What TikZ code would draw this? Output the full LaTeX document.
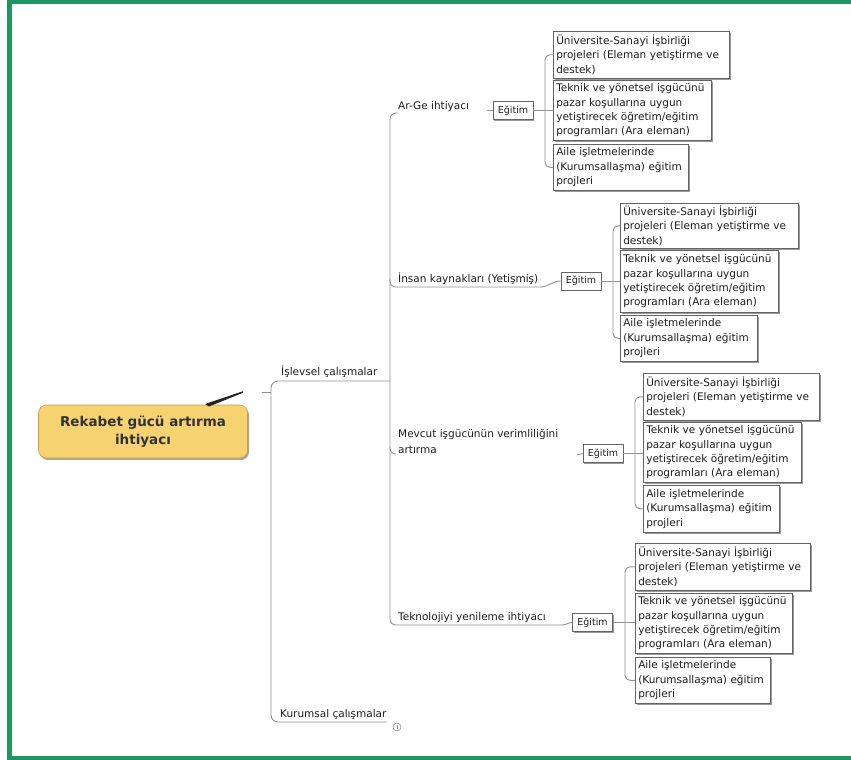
\documentclass[tikz,border=0pt]{standalone}
\usepackage{fontspec}
\setmainfont{DejaVu Sans}
\usetikzlibrary{shadows}
\definecolor{framec}{RGB}{33,150,96}
\definecolor{rootfill}{RGB}{246,210,112}
\definecolor{rootdraw}{RGB}{200,160,70}
\definecolor{txt}{RGB}{30,30,30}
\definecolor{linec}{RGB}{145,145,145}
\definecolor{boxline}{RGB}{100,100,100}
\newcommand\bxA{Üniversite-Sanayi İşbirliği\\projeleri (Eleman yetiştirme ve\\destek)}
\newcommand\bxB{Teknik ve yönetsel işgücünü\\pazar koşullarına uygun\\yetiştirecek öğretim/eğitim\\programları (Ara eleman)}
\newcommand\bxC{Aile işletmelerinde\\(Kurumsallaşma) eğitim\\projleri}
\begin{document}
\begin{tikzpicture}[x=1pt,y=-1pt,
  conn/.style={draw=linec, line width=0.9pt},
  lbl/.style={anchor=west, inner sep=0pt, text=txt, font=\fontsize{10.5}{16}\selectfont, align=left},
  shd/.style={drop shadow={shadow xshift=1.3pt, shadow yshift=-1.3pt, fill=black!40, opacity=1}},
  edu/.style={draw=boxline, line width=0.6pt, fill=white, inner sep=0pt, minimum width=40pt, minimum height=18pt, text=txt, font=\fontsize{9.5}{11}\selectfont, shd},
  tbox/.style={draw=boxline, line width=0.6pt, fill=white, anchor=north west, inner xsep=3pt, inner ysep=2pt, align=left, text=txt, font=\fontsize{10.5}{14.3}\selectfont, shd},
  root/.style={draw=rootdraw, line width=0.6pt, fill=rootfill, rounded corners=8pt, minimum width=209pt, minimum height=53pt, align=center, text=black!80, font=\bfseries\fontsize{13.5}{18}\selectfont, drop shadow={shadow xshift=1.5pt, shadow yshift=-2pt, fill=black!35, opacity=1}},
]
\useasboundingbox (0,0) rectangle (851,760);
\fill[white] (0,0) rectangle (851,760);
% frame
\fill[framec] (7,0) rectangle (12,760);
\fill[framec] (7,0) rectangle (851,4.5);
\fill[framec] (7,755.5) rectangle (851,760);

% root
\node[root] (root) at (143,431.5) {Rekabet gücü artırma\\ihtiyacı};
\coordinate (rk1) at (205,404);
\coordinate (rk2) at (243,392);
\fill[black!85] (rk1) -- (243,391.2) -- (243,392.8) -- (209,406.5) -- cycle;
\coordinate (tk1) at (262,392);
\coordinate (tk2) at (271,392);
\draw[conn] (tk1) -- (tk2);

% level 1 labels
\node[lbl] (islev) at (281,372) {İşlevsel çalışmalar};
\node[lbl] (kurum) at (280,715) {Kurumsal çalışmalar};
\draw[conn, rounded corners=7pt] (390,381) -- (271,381) -- (271,722) -- (387,722);
\draw[linec, line width=0.6pt] (397,727) circle (4pt);
\draw[linec, line width=0.5pt] (397,725) -- (397,729);

% level 2 labels
\node[lbl] (arge) at (398,107) {Ar-Ge ihtiyacı};
\node[lbl] (insan) at (398,279) {İnsan kaynakları (Yetişmiş)};
\node[lbl] (mevcut) at (398,441) {Mevcut işgücünün verimliliğini\\artırma};
\node[lbl] (tekno) at (398,618) {Teknolojiyi yenileme ihtiyacı};

% Eğitim boxes
\node[edu] (e1) at (513,110.5) {Eğitim};
\node[edu] (e2) at (581,281) {Eğitim};
\node[edu] (e3) at (603,453.5) {Eğitim};
\node[edu] (e4) at (592.5,622.5) {Eğitim};

% main vertical with branches
\draw[conn, rounded corners=6pt] (398,113) -- (390,113) -- (390,625) -- (562,625);
\draw[conn] (562,625) to[out=0,in=180] (e4.west);
\draw[conn, rounded corners=5pt] (390,279) -- (390,287) -- (540,287);
\draw[conn] (540,287) to[out=0,in=180] (e2.west);
\draw[conn, rounded corners=5pt] (390,447) -- (390,454) -- (396,454);
\coordinate (a1) at (487,110.5);
\draw[conn] (a1) -- (e1.west);
\coordinate (m1) at (577,455);
\draw[conn] (m1) -- (e3.west);

% group 1
\node[tbox, minimum width=176pt, minimum height=47pt, text width=170pt] (b11) at (553,31) {\bxA};
\node[tbox, minimum width=158pt, minimum height=60pt, text width=152pt] (b12) at (553,80) {\bxB};
\node[tbox, minimum width=135pt, minimum height=46pt, text width=129pt] (b13) at (553,144) {\bxC};
% group 2
\node[tbox, minimum width=178pt, minimum height=45pt, text width=172pt] (b21) at (620,203) {\bxA};
\node[tbox, minimum width=158pt, minimum height=62pt, text width=152pt] (b22) at (620,250) {\bxB};
\node[tbox, minimum width=137pt, minimum height=46pt, text width=131pt] (b23) at (620,315) {\bxC};
% group 3
\node[tbox, minimum width=176pt, minimum height=47pt, text width=170pt] (b31) at (643,373) {\bxA};
\node[tbox, minimum width=158pt, minimum height=60pt, text width=152pt] (b32) at (643,422) {\bxB};
\node[tbox, minimum width=136pt, minimum height=47pt, text width=130pt] (b33) at (643,485) {\bxC};
% group 4
\node[tbox, minimum width=175pt, minimum height=47pt, text width=169pt] (b41) at (635,543) {\bxA};
\node[tbox, minimum width=157pt, minimum height=60pt, text width=151pt] (b42) at (635,593) {\bxB};
\node[tbox, minimum width=135pt, minimum height=46pt, text width=129pt] (b43) at (635,657) {\bxC};

% brackets
\draw[conn, rounded corners=5pt] (b11.west) -- ++(-8,0) |- (b13.west);
\draw[conn] (e1.east) -- (e1.east -| b12.west);
\draw[conn, rounded corners=5pt] (b21.west) -- ++(-7,0) |- (b23.west);
\draw[conn] (e2.east) -- (e2.east -| b22.west);
\draw[conn, rounded corners=5pt] (b31.west) -- ++(-8,0) |- (b33.west);
\draw[conn] (e3.east) -- (e3.east -| b32.west);
\draw[conn, rounded corners=5pt] (b41.west) -- ++(-10,0) |- (b43.west);
\draw[conn] (e4.east) -- (e4.east -| b42.west);
\end{tikzpicture}
\end{document}
